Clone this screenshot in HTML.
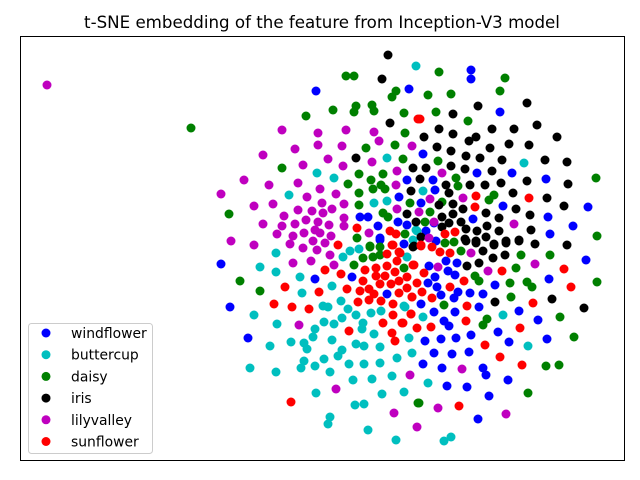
<!DOCTYPE html>
<html><head><meta charset="utf-8"><style>
body{margin:0;background:#fff;}
svg{display:block;font-family:"DejaVu Sans","Liberation Sans",sans-serif;}
</style></head><body>
<svg id="chart" width="640" height="480" viewBox="0 0 640 480">
<rect x="0" y="0" width="640" height="480" fill="#fff"/>
<text x="322" y="28" text-anchor="middle" font-size="16.67" fill="#000">t-SNE embedding of the feature from Inception-V3 model</text>
<g id="marks"></g>
<rect x="20.5" y="36.5" width="604" height="424" fill="none" stroke="#000" stroke-width="1"/>
<g>
<rect x="28.5" y="323.5" width="124" height="130" rx="3" fill="#fff" fill-opacity="0.8" stroke="#ccc"/>
<g id="legend-items"></g>
</g>
</svg>
<script>
const categories = ["windflower","buttercup","daisy","iris","lilyvalley","sunflower"];
const colors = ["#0000ff","#00bfbf","#008000","#000000","#bf00bf","#ff0000"];
const windflower = [[316,91],[409,89],[407,180],[399,197],[398,222],[360,217],[368,217],[378,226],[380,238],[404,244],[407,225],[471,70],[471,79],[500,112],[423,154],[477,173],[512,173],[546,179],[433,180],[435,190],[421,203],[503,206],[588,207],[473,219],[548,217],[434,223],[426,231],[436,241],[573,226],[550,234],[221,264],[230,307],[248,338],[315,279],[352,277],[387,294],[380,240],[586,260],[446,261],[457,263],[429,266],[448,271],[435,277],[455,275],[428,283],[437,287],[495,285],[549,279],[458,292],[441,295],[470,293],[454,298],[483,294],[421,304],[479,307],[519,311],[434,312],[455,312],[444,321],[449,326],[538,320],[498,332],[441,339],[456,338],[471,335],[425,341],[509,342],[547,339],[434,353],[452,354],[469,352],[423,364],[442,368],[483,368],[486,375],[447,386],[467,387],[508,380],[489,396],[478,419]];
const buttercup = [[416,66],[387,158],[317,173],[334,178],[289,195],[374,203],[387,201],[416,230],[524,163],[423,191],[417,231],[413,240],[276,253],[343,257],[350,251],[359,249],[407,257],[260,267],[276,272],[300,277],[332,286],[302,293],[341,301],[254,315],[277,324],[323,306],[328,307],[348,309],[371,313],[381,311],[356,315],[342,318],[324,322],[334,324],[363,323],[362,329],[315,329],[313,337],[332,340],[374,334],[409,338],[405,307],[291,342],[304,343],[307,349],[270,346],[356,344],[364,346],[380,347],[342,350],[338,356],[324,359],[412,353],[397,358],[304,361],[301,368],[315,366],[349,364],[364,364],[380,363],[250,368],[276,372],[330,372],[353,380],[372,379],[392,376],[316,393],[382,394],[404,392],[355,405],[364,404],[330,417],[328,424],[368,430],[396,440],[407,257],[404,306],[423,317],[503,315],[528,346],[428,383],[444,441],[451,437]];
const daisy = [[346,76],[354,76],[396,91],[392,97],[333,110],[306,116],[356,106],[354,112],[372,105],[374,111],[404,113],[405,133],[395,145],[366,148],[403,159],[282,168],[359,174],[383,174],[371,180],[348,184],[381,185],[373,189],[385,189],[359,193],[410,203],[359,205],[383,213],[388,217],[229,214],[357,238],[370,246],[405,234],[191,128],[439,72],[505,78],[500,91],[428,95],[451,94],[436,112],[468,121],[438,161],[456,178],[458,186],[494,195],[489,200],[430,212],[425,222],[596,178],[597,236],[442,202],[454,242],[445,243],[240,281],[260,291],[354,265],[363,258],[370,247],[380,247],[373,257],[380,255],[404,268],[418,403],[461,251],[521,255],[550,255],[516,268],[475,276],[479,281],[510,283],[527,282],[532,287],[597,282],[511,297],[444,305],[487,319],[483,325],[560,317],[574,337],[546,366],[559,365],[528,393],[419,403]];
const iris = [[388,55],[382,79],[390,123],[356,158],[413,168],[411,191],[407,214],[416,222],[478,106],[527,103],[453,114],[439,129],[492,129],[514,129],[537,125],[557,137],[424,137],[453,134],[469,141],[476,137],[437,147],[451,151],[490,148],[509,144],[529,145],[466,156],[480,158],[502,160],[545,160],[567,162],[426,168],[451,166],[465,169],[492,171],[420,179],[446,185],[470,185],[485,185],[501,183],[527,181],[568,184],[449,193],[513,193],[547,198],[439,205],[453,204],[463,209],[486,213],[516,209],[564,206],[442,217],[453,214],[499,218],[530,215],[449,223],[461,222],[442,227],[466,229],[487,226],[477,231],[499,231],[531,230],[421,237],[476,241],[486,237],[465,239],[494,244],[506,241],[519,240],[535,244],[567,245],[414,246],[413,247],[466,241],[476,243],[494,245],[506,243],[519,241],[483,251],[493,258],[505,255],[479,263],[467,266],[495,302],[552,299],[584,308]];
const lilyvalley = [[47,85],[282,130],[318,133],[346,130],[374,132],[379,141],[318,145],[342,146],[295,149],[263,155],[328,159],[372,162],[303,165],[343,166],[397,171],[244,180],[269,185],[298,183],[320,189],[396,185],[221,194],[307,197],[336,194],[322,203],[344,204],[254,206],[273,204],[298,210],[332,209],[312,211],[323,213],[397,209],[284,216],[306,220],[344,218],[318,222],[263,224],[282,226],[295,224],[329,225],[344,226],[315,230],[320,233],[277,234],[304,233],[369,233],[293,236],[331,236],[231,241],[254,245],[290,244],[313,241],[325,243],[412,146],[442,173],[430,199],[463,198],[419,212],[434,222],[514,224],[429,238],[303,248],[317,250],[330,255],[293,263],[311,261],[334,265],[299,325],[336,389],[394,413],[410,375],[417,427],[471,253],[438,267],[488,271],[535,264],[462,369],[438,408],[506,414]];
const sunflower = [[418,119],[357,228],[390,231],[396,234],[338,245],[392,245],[420,119],[476,196],[475,207],[529,198],[445,234],[455,232],[421,245],[432,247],[393,245],[387,254],[399,252],[397,261],[414,265],[325,270],[341,274],[365,270],[376,268],[387,266],[395,272],[385,276],[407,277],[363,281],[376,276],[380,284],[391,284],[399,281],[407,288],[285,287],[319,292],[347,289],[360,291],[369,289],[374,294],[399,293],[412,297],[274,304],[292,307],[309,309],[358,302],[369,300],[381,301],[393,304],[393,315],[383,323],[402,323],[411,314],[349,331],[392,333],[395,341],[291,402],[400,253],[421,246],[440,252],[450,253],[413,265],[424,273],[417,283],[422,292],[412,297],[432,298],[450,287],[464,281],[502,271],[564,269],[571,287],[533,303],[467,306],[411,314],[403,323],[417,328],[431,327],[466,321],[520,328],[485,345],[500,357],[522,365],[459,406]];
const seriesData = [windflower, buttercup, daisy, iris, lilyvalley, sunflower];

const xDomain = [0, 640], xRange = [0, 640];
const yDomain = [0, 480], yRange = [0, 480];
function sx(v){ return xRange[0] + (v - xDomain[0]) / (xDomain[1] - xDomain[0]) * (xRange[1] - xRange[0]); }
function sy(v){ return yRange[0] + (v - yDomain[0]) / (yDomain[1] - yDomain[0]) * (yRange[1] - yRange[0]); }

const NS = "http://www.w3.org/2000/svg";
const marks = document.getElementById("marks");
seriesData.forEach(function(pts, si){
  const g = document.createElementNS(NS, "g");
  
  
  pts.forEach(function(p){
    const c = document.createElementNS(NS, "circle");
    c.setAttribute("cx", sx(p[0]));
    c.setAttribute("cy", sy(p[1]));
    c.setAttribute("r", 4.5);
    c.setAttribute("fill", colors[si]);
    
    
    g.appendChild(c);
  });
  marks.appendChild(g);
});

const leg = document.getElementById("legend-items");
categories.forEach(function(name, i){
  const y = 333 + i * 21.7;
  const g = document.createElementNS(NS, "g");
  
  
  const c = document.createElementNS(NS, "circle");
  c.setAttribute("cx", 46); c.setAttribute("cy", y); c.setAttribute("r", 4.5);
  c.setAttribute("fill", colors[i]);
  
  
  const t = document.createElementNS(NS, "text");
  t.setAttribute("x", 71); t.setAttribute("y", y + 5);
  t.setAttribute("font-size", "13.9"); t.setAttribute("fill", "#000");
  t.textContent = name;
  
  
  g.appendChild(c); g.appendChild(t);
  leg.appendChild(g);
});
</script>
</body></html>
